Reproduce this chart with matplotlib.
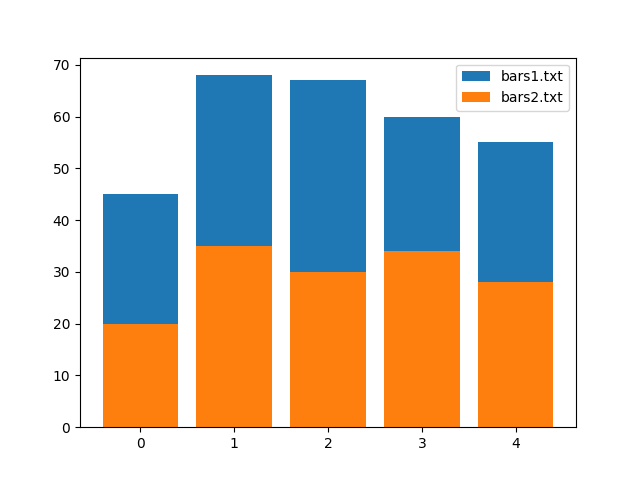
import numpy as np
import matplotlib
matplotlib.use('Agg')
import matplotlib.pyplot as plt

x = np.arange(5)
bars1 = [45, 68, 67, 60, 55]
bars2 = [20, 35, 30, 34, 28]

fig, ax = plt.subplots(figsize=(6.4, 4.8), dpi=100)
ax.bar(x, bars1, label='bars1.txt')
ax.bar(x, bars2, label='bars2.txt')
ax.legend()

fig.savefig('out.png')
